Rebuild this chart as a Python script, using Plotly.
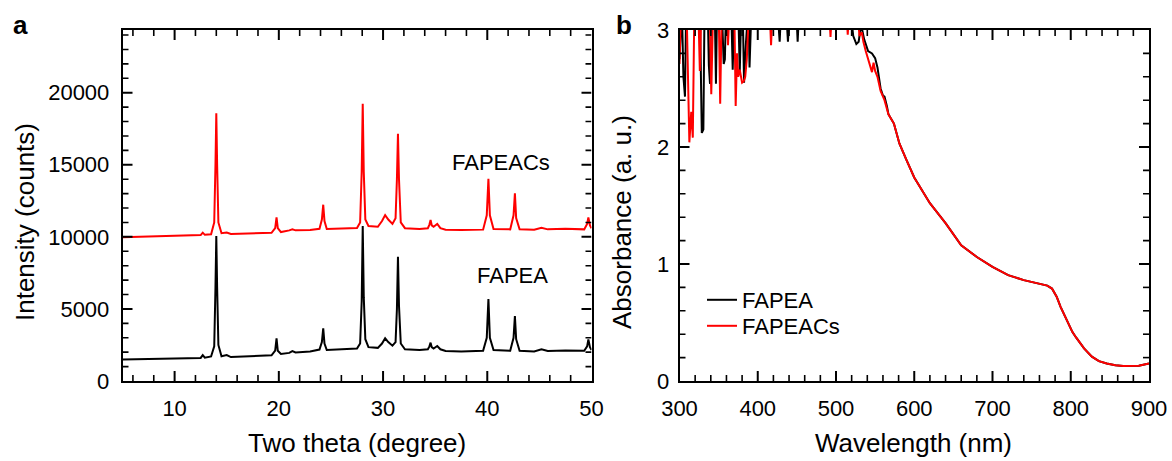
import plotly.graph_objects as go

# ---------------- Panel a: XRD ----------------
theta = [5, 8, 11, 12.5, 12.7, 12.9, 13.5, 13.8, 13.92, 14.0, 14.08, 14.2, 14.5, 15.0, 15.4,
         17, 19.3, 19.65, 19.78, 19.9, 20.2, 21.0, 21.3, 21.6, 23, 23.9, 24.13, 24.26, 24.38,
         24.6, 26, 27.5, 27.8, 27.95, 28.05, 28.15, 28.3, 28.6, 29.5, 29.9, 30.2, 30.5, 30.9,
         31.2, 31.33, 31.43, 31.53, 31.7, 32.1, 33.5, 34.3, 34.45, 34.56, 34.67, 34.85, 35.2,
         35.5, 36, 37.5, 39.6, 39.95, 40.11, 40.25, 40.6, 42.2, 42.52, 42.65, 42.77, 43.1,
         44.5, 45.2, 45.8, 47.5, 49.3, 49.58, 49.7, 49.85, 50]

fapea_xrd = [1500, 1530, 1570, 1600, 1800, 1620, 1700, 2400, 6500, 10050, 6500, 2500, 1720, 1800, 1660,
             1700, 1780, 2100, 2960, 2100, 1880, 1950, 2080, 1980, 2050, 2180, 2700, 3650, 2600,
             2150, 2200, 2250, 2600, 5500, 10750, 5800, 2900, 2350, 2300, 2600, 2960, 2700, 2450,
             2700, 5000, 8620, 5200, 2600, 2200, 2150, 2200, 2400, 2660, 2350, 2250, 2430,
             2200, 2080, 2050, 2100, 3000, 5690, 3000, 2150, 2100, 3000, 4510, 2900, 2100,
             2050, 2200, 2080, 2120, 2100, 2400, 2890, 2350, 2150]

fapeacs_xrd = [9980, 10020, 10070, 10120, 10290, 10140, 10180, 11000, 15000, 18565, 15000, 11000, 10250, 10300, 10200,
               10220, 10280, 10600, 11350, 10600, 10330, 10450, 10520, 10450, 10480, 10560, 11200, 12230, 11100,
               10550, 10580, 10620, 11000, 14500, 19235, 14500, 11200, 10750, 10700, 11100, 11510, 11200, 10900,
               11300, 14000, 17155, 14000, 11000, 10600, 10550, 10600, 10850, 11170, 10800, 10700, 10890,
               10600, 10500, 10470, 10500, 11500, 14030, 11500, 10550, 10520, 11500, 13020, 11300, 10520,
               10500, 10635, 10520, 10560, 10520, 10900, 11350, 10800, 10590]

# ---------------- Panel b: absorbance ----------------
smooth_nm = [574, 581, 590, 600, 620, 640, 660, 680, 700, 720, 740, 760, 770, 776, 782, 787,
             792, 797, 802, 807, 812, 817, 827, 836, 846, 857, 867, 877, 887, 900]
smooth_abs = [2.20, 2.03, 1.89, 1.74, 1.52, 1.35, 1.16, 1.06, 0.975, 0.905, 0.862, 0.833, 0.815, 0.79,
              0.72, 0.634, 0.56, 0.49, 0.42, 0.37, 0.32, 0.279, 0.208, 0.17, 0.15, 0.135, 0.128,
              0.127, 0.13, 0.15]

fapea_nm = [300, 301.5, 303, 305, 307, 308.5, 326, 328.5, 330.5, 332, 336, 337.5, 339, 340.5,
            345, 346.6, 348, 354, 356.5, 358, 359.5, 366, 368, 370, 375, 377, 379, 381, 382.5,
            385, 388, 389.5, 392, 425, 428, 430, 436, 438.6, 441, 449, 451, 453, 518, 522, 526,
            529, 532, 536, 541, 546, 550, 553, 557, 560, 562, 565, 567] + smooth_nm
fapea_abs = [2.75, 3.2, 3.2, 2.6, 2.43, 3.2, 3.2, 2.12, 2.15, 3.2, 3.2, 2.7, 2.54, 3.2,
             3.2, 2.54, 3.2, 3.2, 2.71, 2.75, 3.2, 3.2, 2.66, 3.2, 3.2, 2.64, 3.2, 3.1, 2.55,
             2.9, 3.2, 2.68, 3.2, 3.2, 2.9, 3.2, 3.2, 2.9, 3.2, 3.2, 2.9, 3.2, 3.2, 2.95, 2.88,
             2.9, 3.05, 2.92, 2.82, 2.80, 2.76, 2.68, 2.50, 2.44, 2.43, 2.35, 2.28] + smooth_abs

fapeacs_nm = [300, 302, 309, 311, 312.6, 315, 317, 319, 324, 326, 328, 338.5, 340.6, 343, 350,
              352, 354, 360, 362, 364, 370, 371.8, 373.5, 375, 377, 380, 382, 384, 386, 389,
              415, 417, 419, 491, 493, 495, 513, 515, 517, 527, 530, 533, 535, 538, 541, 544,
              546, 548, 550, 553, 557, 562, 567] + smooth_nm
fapeacs_abs = [2.71, 3.2, 3.2, 2.5, 2.04, 2.3, 2.08, 3.2, 3.2, 2.65, 3.2, 3.2, 2.45, 3.2, 3.2,
               2.37, 3.2, 3.2, 2.87, 3.2, 3.2, 2.35, 2.8, 2.6, 2.66, 2.55, 2.56, 2.6, 2.75, 3.2,
               3.2, 2.87, 3.2, 3.2, 2.94, 3.2, 3.2, 2.96, 3.2, 3.2, 2.95, 2.98, 2.9, 2.82, 2.75, 2.68,
               2.64, 2.72, 2.65, 2.60, 2.48, 2.40, 2.28] + smooth_abs

# tick positions (axis decoration)
xa_major = [10, 20, 30, 40]
xa_minor = [6, 8, 12, 14, 16, 18, 22, 24, 26, 28, 32, 34, 36, 38, 42, 44, 46, 48]
ya_major = [5000, 10000, 15000, 20000]
ya_minor = [1000, 2000, 3000, 4000, 6000, 7000, 8000, 9000, 11000, 12000, 13000, 14000,
            16000, 17000, 18000, 19000, 21000, 22000, 23000, 24000]
xb_major = [400, 500, 600, 700, 800]
xb_minor = [320, 340, 360, 380, 420, 440, 460, 480, 520, 540, 560, 580,
            620, 640, 660, 680, 720, 740, 760, 780, 820, 840, 860, 880]
yb_major = [1, 2]
yb_minor = [0.2, 0.4, 0.6, 0.8, 1.2, 1.4, 1.6, 1.8, 2.2, 2.4, 2.6, 2.8]

XA_RANGE, YA_RANGE = [5, 50], [0, 24350]
XB_RANGE, YB_RANGE = [300, 900], [0, 3]

FONT = "Liberation Sans, Arial, sans-serif"
W, H = 1172, 461
LEFT_A, RIGHT_A, LEFT_B, RIGHT_B, TOP, BOTTOM = 122.5, 591.5, 679.5, 1149, 30, 381

def px(x):
    return x / W

def py(y):
    return 1 - y / H

fig = go.Figure()
fig.add_trace(go.Scatter(x=theta, y=fapea_xrd, mode="lines", line=dict(color="black", width=2),
                         showlegend=False, xaxis="x", yaxis="y"))
fig.add_trace(go.Scatter(x=theta, y=fapeacs_xrd, mode="lines", line=dict(color="#ff0000", width=2),
                         showlegend=False, xaxis="x", yaxis="y"))
fig.add_trace(go.Scatter(x=fapea_nm, y=fapea_abs, mode="lines", name="FAPEA", legend="legend",
                         line=dict(color="black", width=2), xaxis="x2", yaxis="y2"))
fig.add_trace(go.Scatter(x=fapeacs_nm, y=fapeacs_abs, mode="lines", name="FAPEACs", legend="legend2",
                         line=dict(color="#ff0000", width=2), xaxis="x2", yaxis="y2"))

# inside tick marks on all four sides of a panel, one short segment per tick, in the panel's data scale
def add_ticks(xax, yax, xr, yr, wpx, hpx, xmaj, xmin, ymaj, ymin):
    for vals_x, vals_y, length, width in ((xmaj, ymaj, 10, 2), (xmin, ymin, 6, 1.6)):
        ly = length * (yr[1] - yr[0]) / hpx
        lx = length * (xr[1] - xr[0]) / wpx
        segs = []
        for v in vals_x:
            segs.append(([v, v], [yr[0], yr[0] + ly]))
            segs.append(([v, v], [yr[1], yr[1] - ly]))
        for v in vals_y:
            segs.append(([xr[0], xr[0] + lx], [v, v]))
            segs.append(([xr[1], xr[1] - lx], [v, v]))
        for sx, sy in segs:
            fig.add_trace(go.Scatter(x=sx, y=sy, mode="lines",
                                     line=dict(color="black", width=width, simplify=False),
                                     showlegend=False, hoverinfo="skip", xaxis=xax, yaxis=yax))

add_ticks("x", "y", XA_RANGE, YA_RANGE, RIGHT_A - LEFT_A, BOTTOM - TOP,
          xa_major, xa_minor, ya_major, ya_minor)
add_ticks("x2", "y2", XB_RANGE, YB_RANGE, RIGHT_B - LEFT_B, BOTTOM - TOP,
          xb_major, xb_minor, yb_major, yb_minor)

def axis(**kw):
    d = dict(showline=True, linecolor="black", linewidth=1.5, mirror=True,
             ticks="outside", tickcolor="rgba(0,0,0,0)", showgrid=False, zeroline=False,
             automargin=False, tickfont=dict(family=FONT, size=22, color="black"))
    d.update(kw)
    return d

ydom = [py(BOTTOM), py(TOP)]
fig.update_layout(
    width=W, height=H, margin=dict(l=0, r=0, t=0, b=0, autoexpand=False),
    paper_bgcolor="white", plot_bgcolor="white",
    font=dict(family=FONT, color="black"),
    xaxis=axis(domain=[px(LEFT_A), px(RIGHT_A)], anchor="y", range=XA_RANGE, dtick=10, tick0=0, ticklen=7),
    yaxis=axis(domain=ydom, anchor="x", range=YA_RANGE, dtick=5000, tick0=0, tickformat="d", ticklen=7),
    xaxis2=axis(domain=[px(LEFT_B), px(RIGHT_B)], anchor="y2", range=XB_RANGE, dtick=100, tick0=0, ticklen=7),
    yaxis2=axis(domain=ydom, anchor="x2", range=YB_RANGE, dtick=1, tick0=0, ticklen=4),
    legend=dict(x=px(702), y=py(279), xanchor="left", yanchor="top",
                bgcolor="rgba(0,0,0,0)", font=dict(family=FONT, size=22, color="black")),
    legend2=dict(x=px(702), y=py(305), xanchor="left", yanchor="top",
                 bgcolor="rgba(0,0,0,0)", font=dict(family=FONT, size=22, color="black")),
)

annos = [
    dict(text="<b>a</b>", x=px(20), y=py(25), size=26),
    dict(text="<b>b</b>", x=px(624), y=py(25), size=26),
    dict(text="Two theta (degree)", x=px(357), y=py(443), size=26),
    dict(text="Wavelength (nm)", x=px(914), y=py(443), size=26),
    dict(text="FAPEACs", x=px(501), y=py(163), size=22),
    dict(text="FAPEA", x=px(512.5), y=py(275), size=22),
]
for a in annos:
    fig.add_annotation(text=a["text"], x=a["x"], y=a["y"], xref="paper", yref="paper",
                       showarrow=False, xanchor="center", yanchor="middle",
                       font=dict(family=FONT, size=a["size"], color="black"))
fig.add_annotation(text="Intensity (counts)", x=px(25), y=py(222), xref="paper", yref="paper",
                   showarrow=False, textangle=-90, xanchor="center", yanchor="middle",
                   font=dict(family=FONT, size=26, color="black"))
fig.add_annotation(text="Absorbance (a. u.)", x=px(622), y=py(222), xref="paper", yref="paper",
                   showarrow=False, textangle=-90, xanchor="center", yanchor="middle",
                   font=dict(family=FONT, size=26, color="black"))

fig.write_html("out.html")
